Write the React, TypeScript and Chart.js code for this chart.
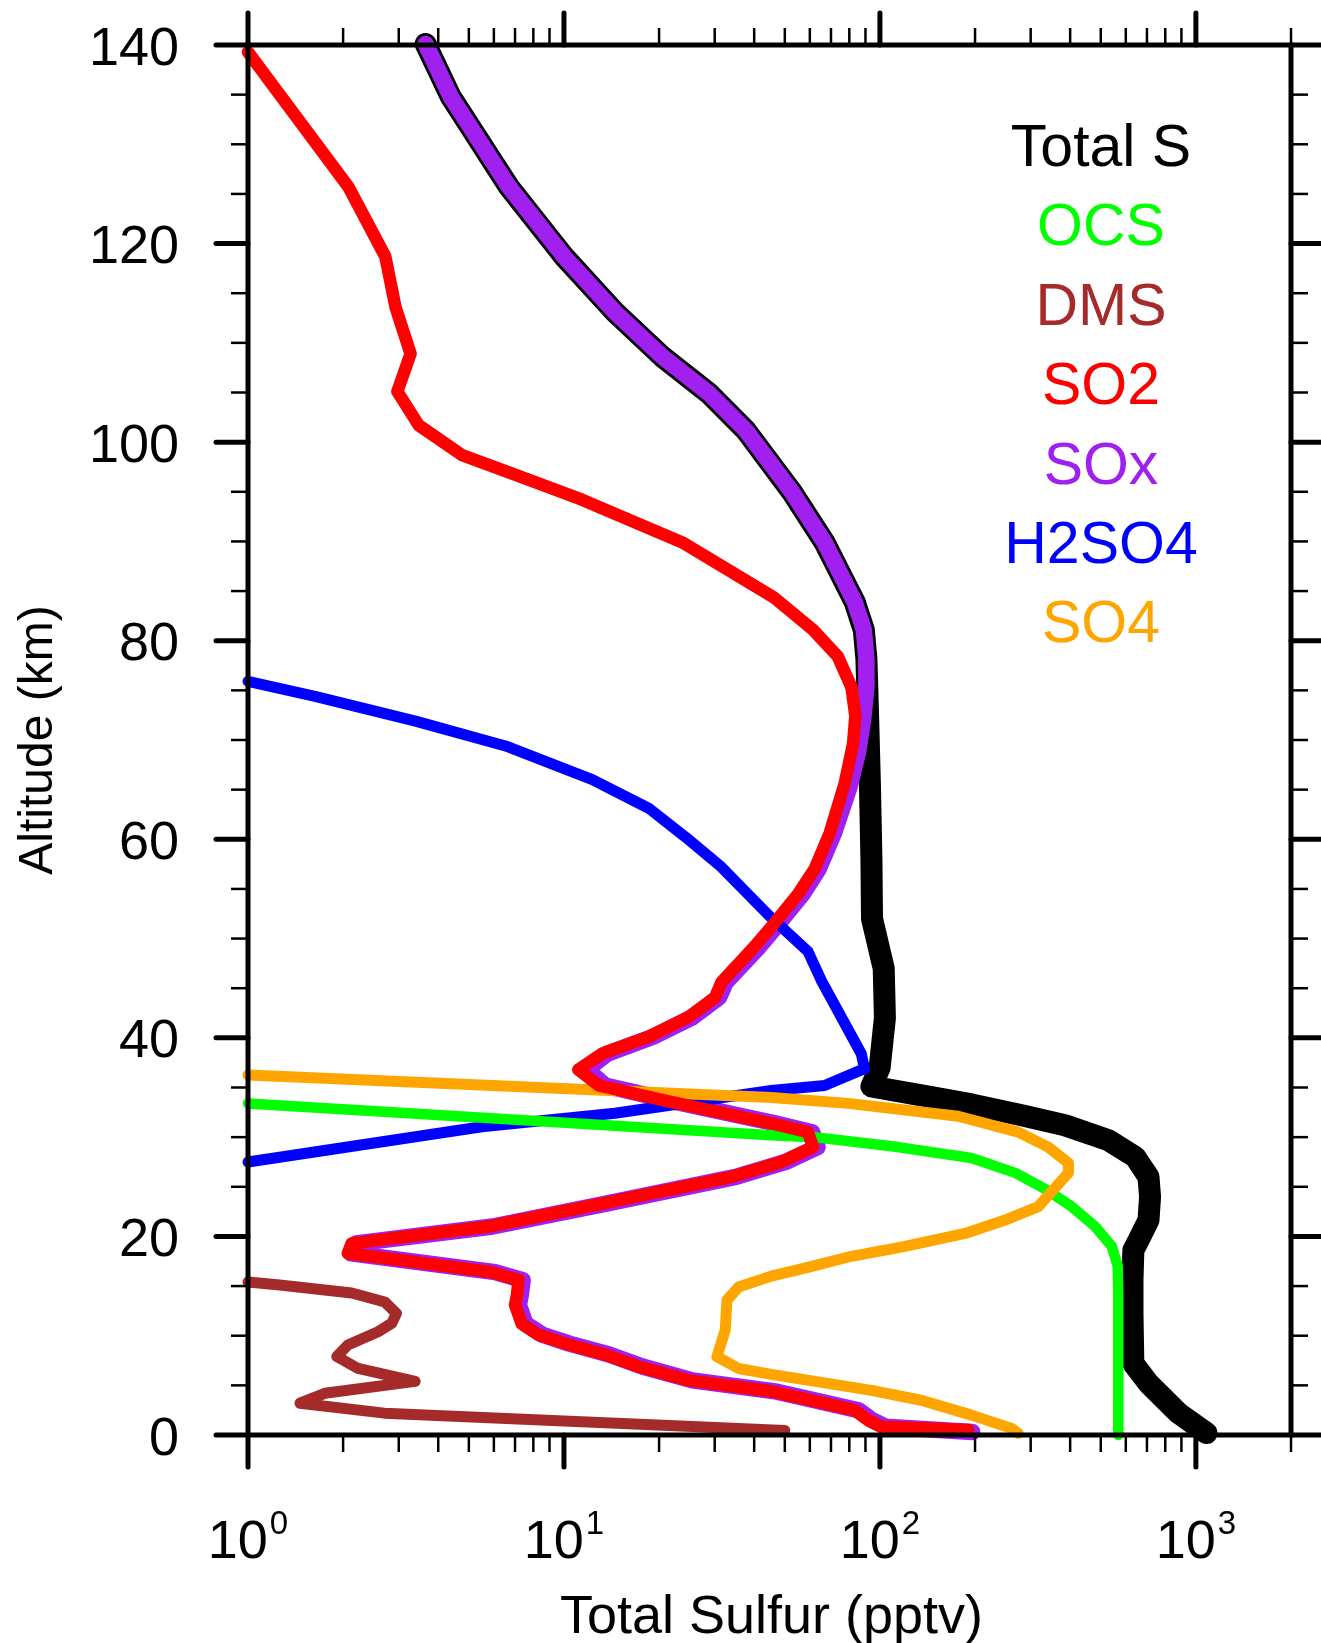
import React, { useEffect, useRef } from 'react';
import { Chart, registerables } from 'chart.js';

Chart.register(...registerables);

// ---- data: [pptv, altitude km] ----
const TOTAL_S: [number, number][] = [
  [3.65, 140.1], [4.38, 134.8], [6.7, 125.7], [10.0, 118.7], [14.6, 113.0], [20.5, 108.6],
  [28.8, 104.9], [37.6, 101.2], [52.6, 95.0], [66.8, 89.9], [83.2, 83.9], [88.9, 81.1],
  [90.6, 78.2], [91.2, 75.3], [91.8, 72.1], [93.0, 65.3], [94.0, 58.0], [94.4, 52.0],
  [102.8, 47.0], [103.7, 42.0], [99.8, 37.0], [94.0, 35.1], [135.5, 34.2], [195, 33.3],
  [281, 32.2], [385, 31.2], [528, 29.7], [643, 28.0], [708, 26.0], [716, 24.0], [708, 21.65],
  [658, 19.6], [634, 18.6], [630, 15.6], [630, 12.25], [634, 7.2], [708, 5.2], [881, 2.2],
  [1080, 0.2],
];

const OCS: [number, number][] = [
  [1.0, 33.4], [45.3, 30.2], [62, 30.0], [114, 29.0], [195, 27.9], [268, 26.4], [333, 24.8],
  [405, 23.0], [480, 21.0], [542, 19.0], [566, 17.0], [568, 14.0], [568, 0.0],
];

const DMS: [number, number][] = [
  [1.0, 15.4], [1.26, 15.1], [2.13, 14.3], [2.71, 13.4], [2.95, 12.25], [2.85, 11.25],
  [2.58, 10.4], [2.07, 9.06], [1.91, 7.9], [2.23, 6.7], [3.38, 5.4], [1.75, 4.2], [1.46, 3.2],
  [2.7, 2.2], [50, 0.45],
];

const SO2: [number, number][] = [
  [1.0, 139.3], [2.08, 125.7], [2.72, 118.7], [2.93, 113.6], [3.27, 108.9], [2.97, 105.1],
  [3.47, 101.7], [4.76, 98.7], [7.03, 96.7], [11.4, 94.2], [23.7, 89.9], [46.0, 84.4],
  [61.4, 81.1], [73.6, 78.4], [81.3, 75.3], [83.6, 72.4], [82.2, 69.6], [77.3, 65.6],
  [69.3, 60.6], [62.1, 57.0], [55.1, 54.5], [46.5, 51.6], [40.1, 49.2], [31.5, 45.6],
  [30.1, 44.1], [24.8, 42.1], [18.5, 40.1], [13.2, 38.4], [11.1, 36.8], [12.9, 35.2],
  [21.4, 33.6], [45.2, 31.4], [59.2, 30.5], [61.4, 29.0], [48.8, 27.5], [34.0, 26.0],
  [13.2, 23.3], [5.77, 21.0], [2.13, 19.3], [2.07, 18.3], [5.9, 16.4], [7.18, 15.6],
  [7.1, 14.1], [7.0, 13.1], [7.35, 11.2], [8.3, 10.1], [10.1, 9.2], [13.5, 8.1], [17.2, 6.9],
  [24.8, 5.5], [45.2, 4.4], [83.2, 2.5], [91.6, 1.5], [101, 0.84], [190, 0.5],
];

const SOX: [number, number][] = [
  [3.65, 140.1], [4.38, 134.8], [6.7, 125.7], [10.0, 118.7], [14.6, 113.0], [20.5, 108.6],
  [28.8, 104.9], [37.6, 101.2], [52.6, 95.0], [66.8, 89.9], [83.2, 83.9], [88.9, 81.1],
  [90.6, 78.2], [90.6, 75.3], [88.5, 72.1], [85.3, 68.8], [80.2, 65.3], [71.5, 60.6],
  [64.0, 57.0], [57.0, 54.5], [48.0, 51.6], [41.5, 49.2], [32.5, 45.6], [31.0, 44.1],
  [25.6, 42.1], [19.1, 40.1], [13.7, 38.4], [11.8, 36.8], [13.5, 35.2], [22.2, 33.6],
  [46.5, 31.4], [61.0, 30.5], [63.5, 29.0], [50.3, 27.5], [35.0, 26.0], [13.6, 23.3],
  [5.95, 21.0], [2.2, 19.3], [2.12, 18.3], [6.05, 16.4], [7.4, 15.6], [7.3, 14.1], [7.2, 13.1],
  [7.55, 11.2], [8.55, 10.1], [10.4, 9.2], [13.9, 8.1], [17.7, 6.9], [25.5, 5.5], [46.5, 4.4],
  [85.5, 2.5], [94.5, 1.5], [104, 0.84], [196, 0.3],
];

const H2SO4: [number, number][] = [
  [1.0, 27.5], [5.5, 31.05], [14.5, 32.4], [45.3, 34.7], [66.8, 35.2], [89.4, 36.9],
  [87.3, 38.4], [65.2, 45.8], [59.2, 48.7], [44.3, 52.4], [31.5, 57.2], [24.3, 60.2],
  [18.6, 63.1], [12.3, 66.0], [6.53, 69.4], [3.39, 71.9], [1.63, 74.4], [1.0, 75.9],
];

const SO4: [number, number][] = [
  [1.0, 36.25], [45.3, 34.0], [79.3, 33.4], [177, 32.1], [274, 30.5], [341, 29.0], [395, 27.4],
  [395, 26.4], [317, 23.0], [249, 21.65], [186, 20.3], [120, 19.0], [81.3, 18.0], [57.8, 16.8],
  [45.3, 16.0], [35.7, 14.9], [32.8, 13.6], [32.4, 10.6], [30.5, 7.9], [35.7, 6.7], [45.3, 6.1],
  [94, 4.5], [135, 3.5], [195, 2.0], [261, 0.67], [274, 0.17],
];

const LEGEND_LABELS = ['Total S', 'OCS', 'DMS', 'SO2', 'SOx', 'H2SO4', 'SO4'];
const LEGEND_COLORS = ['#000000', '#00ff00', '#a52a2a', '#ff0000', '#a020f0', '#0000ff', '#ffa500'];

const Y_TICKS = [0, 20, 40, 60, 80, 100, 120, 140];
const X_DECADES = [0, 1, 2, 3];
const X_TITLE = 'Total Sulfur (pptv)';
const Y_TITLE = 'Altitude (km)';

const FONT = '"Liberation Sans", Arial, Helvetica, sans-serif';

const framePlugin = {
  id: 'ncl-frame',
  afterDatasetsDraw(chart: any) {
    const ctx: CanvasRenderingContext2D = chart.ctx;
    const xs = chart.scales.x;
    const ys = chart.scales.y;
    const { left: L, right: R, top: T, bottom: B } = chart.chartArea;
    ctx.save();
    ctx.strokeStyle = '#000';
    ctx.fillStyle = '#000';

    const seg = (x1: number, y1: number, x2: number, y2: number, w: number, cap: CanvasLineCap) => {
      ctx.lineWidth = w;
      ctx.lineCap = cap;
      ctx.beginPath();
      ctx.moveTo(x1, y1);
      ctx.lineTo(x2, y2);
      ctx.stroke();
    };

    // frame
    ctx.lineWidth = 5;
    ctx.lineJoin = 'miter';
    ctx.beginPath();
    ctx.rect(L, T, R - L, B - T);
    ctx.stroke();

    // y ticks (left and right, outward)
    for (let k = 0; k <= 140; k += 5) {
      const py = ys.getPixelForValue(k);
      const major = k % 20 === 0;
      const len = major ? 32 : 17;
      const w = major ? 5 : 2.5;
      const cap: CanvasLineCap = major ? 'round' : 'butt';
      seg(L, py, L - len, py, w, cap);
      seg(R, py, R + len, py, w, cap);
    }

    // x ticks (bottom and top, outward)
    const xmax = xs.max;
    for (const d of X_DECADES) {
      for (let m = 1; m <= 9; m++) {
        const v = m * Math.pow(10, d);
        if (v > xmax + 1e-6) break;
        const px = xs.getPixelForValue(v);
        const major = m === 1;
        const len = major ? 32 : 17;
        const w = major ? 5 : 2.5;
        const cap: CanvasLineCap = major ? 'round' : 'butt';
        seg(px, B, px, B + len, w, cap);
        seg(px, T, px, T - len, w, cap);
      }
    }

    // y tick labels
    ctx.font = `54px ${FONT}`;
    ctx.textAlign = 'right';
    ctx.textBaseline = 'alphabetic';
    for (const t of Y_TICKS) {
      ctx.fillText(String(t), L - 69, ys.getPixelForValue(t) + 19.5);
    }

    // x tick labels 10^d
    ctx.textAlign = 'left';
    for (const d of X_DECADES) {
      const px = xs.getPixelForValue(Math.pow(10, d));
      ctx.font = `54px ${FONT}`;
      const bw = ctx.measureText('10').width;
      ctx.font = `33px ${FONT}`;
      const sw = ctx.measureText(String(d)).width;
      const total = bw + 2 + sw;
      const x0 = px - total / 2;
      ctx.font = `54px ${FONT}`;
      ctx.fillText('10', x0, B + 123);
      ctx.font = `33px ${FONT}`;
      ctx.fillText(String(d), x0 + bw + 2, B + 99);
    }

    // axis titles
    ctx.textAlign = 'center';
    ctx.font = `54px ${FONT}`;
    ctx.fillText(X_TITLE, (L + R) / 2 + 2, B + 198);
    ctx.save();
    ctx.translate(52, (T + B) / 2);
    ctx.rotate(-Math.PI / 2);
    ctx.font = `48px ${FONT}`;
    ctx.fillText(Y_TITLE, 0, 0);
    ctx.restore();

    // legend (text only)
    ctx.font = `59px ${FONT}`;
    ctx.textAlign = 'center';
    LEGEND_LABELS.forEach((lab, i) => {
      ctx.fillStyle = LEGEND_COLORS[i];
      ctx.fillText(lab, R - 190, T + 121 + i * 79.4);
    });

    ctx.restore();
  },
};

export default function App() {
  const ref = useRef<HTMLCanvasElement | null>(null);

  useEffect(() => {
    document.body.style.margin = '0';
    const canvas = ref.current;
    if (!canvas) return;

    const mk = (pts: [number, number][], color: string, width: number, order: number) => ({
      data: pts.map(([v, k]) => ({ x: v, y: k })),
      borderColor: color,
      backgroundColor: color,
      borderWidth: width,
      pointRadius: 0,
      pointHoverRadius: 0,
      showLine: true,
      fill: false,
      tension: 0,
      borderCapStyle: 'round' as const,
      borderJoinStyle: 'round' as const,
      clip: { left: 8, right: 8, top: 14, bottom: 14 },
      order,
    });

    const chart = new Chart(canvas, {
      type: 'scatter',
      data: {
        datasets: [
          mk(SO2, LEGEND_COLORS[3], 12.5, 0),
          mk(DMS, LEGEND_COLORS[2], 11, 1),
          mk(SO4, LEGEND_COLORS[6], 11, 2),
          mk(OCS, LEGEND_COLORS[1], 10.5, 3),
          mk(H2SO4, LEGEND_COLORS[5], 11, 4),
          mk(SOX, LEGEND_COLORS[4], 16.5, 5),
          mk(TOTAL_S, LEGEND_COLORS[0], 22, 6),
        ] as any,
      },
      options: {
        responsive: false,
        maintainAspectRatio: false,
        devicePixelRatio: 1,
        animation: false,
        events: [],
        layout: { autoPadding: false, padding: { left: 248, right: 30, top: 45, bottom: 208 } },
        plugins: { legend: { display: false }, tooltip: { enabled: false } },
        scales: {
          x: { type: 'logarithmic', min: 1, max: 2000, display: false },
          y: { type: 'linear', min: 0, max: 140, display: false },
        },
      } as any,
      plugins: [framePlugin],
    });
    return () => chart.destroy();
  }, []);

  return (
    <div style={{ width: 1321, height: 1643, background: '#fff' }}>
      <canvas ref={ref} width={1321} height={1643} style={{ display: 'block' }} />
    </div>
  );
}
